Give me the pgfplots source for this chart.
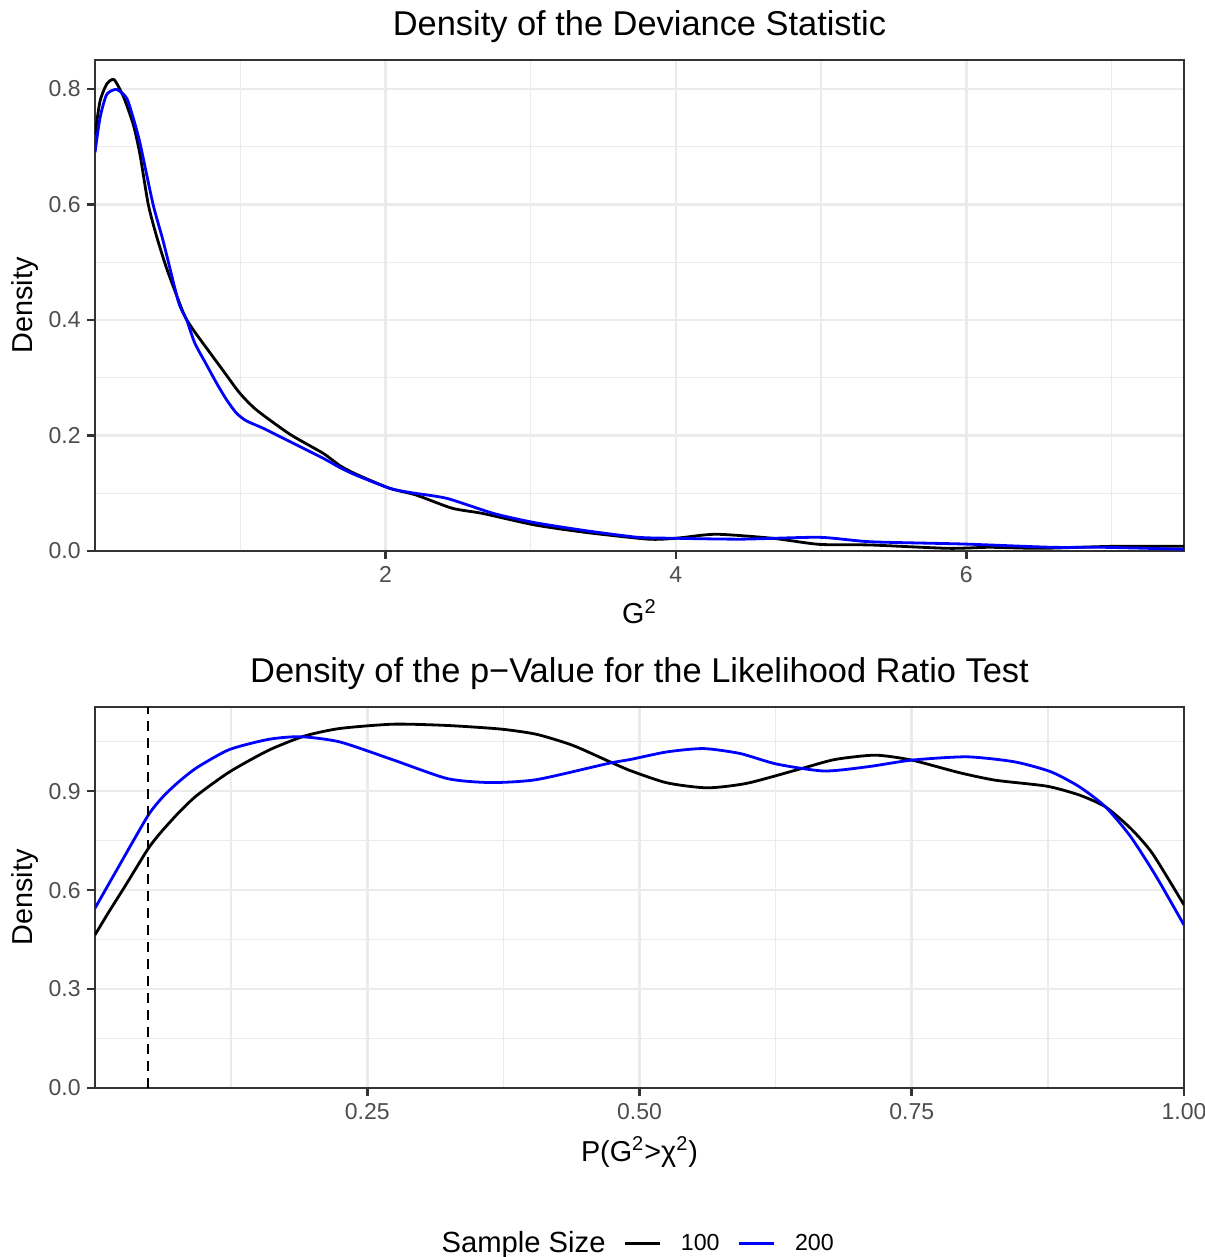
\documentclass[border=0pt]{standalone}
\usepackage{pgfplots}
\pgfplotsset{compat=1.18}
\usepackage{fontspec}
\setmainfont{Liberation Sans}
\definecolor{gridc}{HTML}{EBEBEB}
\definecolor{borderc}{HTML}{333333}
\definecolor{tickc}{HTML}{4D4D4D}
\definecolor{blueline}{HTML}{0000FF}

\pgfplotstableread{
x y
0.000 0.720
0.034 0.778
0.080 0.808
0.131 0.816
0.195 0.787
0.264 0.738
0.310 0.686
0.367 0.600
0.425 0.544
0.493 0.4895
0.574 0.4346
0.620 0.4057
0.677 0.3827
0.769 0.351
0.884 0.3117
0.998 0.273
1.113 0.244
1.343 0.202
1.572 0.169
1.687 0.1477
1.800 0.1328
2.030 0.1085
2.210 0.097
2.460 0.074
2.670 0.065
3.030 0.045
3.385 0.032
3.810 0.0205
4.000 0.022
4.275 0.029
4.667 0.022
4.987 0.0115
5.340 0.0104
5.876 0.0046
6.160 0.0064
6.516 0.0046
7.015 0.0081
7.500 0.0081
}\devA

\pgfplotstableread{
x y
0.000 0.690
0.034 0.749
0.080 0.790
0.149 0.799
0.218 0.784
0.264 0.749
0.310 0.706
0.400 0.600
0.470 0.536
0.574 0.432
0.631 0.400
0.688 0.3596
0.769 0.322
0.838 0.2903
0.907 0.2615
0.975 0.2384
1.044 0.2251
1.159 0.2124
1.343 0.1893
1.572 0.1605
1.687 0.1443
1.800 0.131
2.030 0.1085
2.176 0.101
2.425 0.091
2.745 0.065
3.030 0.049
3.385 0.035
3.740 0.0237
4.000 0.022
4.453 0.0205
4.987 0.0237
5.340 0.016
5.980 0.0121
6.590 0.0064
6.940 0.0064
7.500 0.003
}\devB

\pgfplotstableread{
x y
0.000 0.464
0.0118 0.529
0.0282 0.615
0.0489 0.726
0.061 0.777
0.0775 0.837
0.0939 0.888
0.1234 0.958
0.1595 1.024
0.1924 1.067
0.225 1.090
0.2744 1.103
0.3236 1.099
0.3729 1.088
0.4057 1.072
0.4385 1.039
0.4714 0.991
0.4917 0.962
0.5253 0.925
0.5622 0.910
0.599 0.924
0.6494 0.969
0.6796 0.996
0.7165 1.009
0.75 0.994
0.7937 0.956
0.827 0.933
0.874 0.915
0.904 0.888
0.928 0.852
0.951 0.787
0.971 0.711
1.000 0.555
}\pvA

\pgfplotstableread{
x y
0.000 0.545
0.0217 0.671
0.0489 0.827
0.063 0.885
0.0775 0.930
0.0939 0.972
0.1234 1.026
0.1595 1.057
0.189 1.065
0.225 1.049
0.2744 0.994
0.3236 0.938
0.363 0.926
0.4057 0.935
0.4714 0.984
0.4917 0.996
0.5253 1.019
0.5588 1.029
0.5924 1.014
0.626 0.982
0.6695 0.961
0.7098 0.974
0.75 0.994
0.8004 1.004
0.844 0.989
0.8775 0.959
0.904 0.913
0.928 0.852
0.951 0.762
0.9747 0.640
1.000 0.494
}\pvB

\pgfplotsset{
  myaxis/.style={
    scale only axis, width=544.5pt,
    axis line style={borderc, line width=1.3pt},
    tick style={borderc, line width=1.3pt},
    tick align=outside, major tick length=3.8pt, minor tick length=0pt,
    tick pos=left,
    grid=both,
    major grid style={gridc, line width=1.3pt},
    minor grid style={gridc, line width=0.65pt},
    ticklabel style={font=\fontsize{11.5}{13}\selectfont, text=tickc},
    /pgf/number format/assume math mode=true,
    xticklabel style={anchor=base, inner sep=0pt, yshift=-12pt},
    yticklabel style={anchor=east, inner sep=0pt, xshift=-3.2pt},
    title style={font=\fontsize{17.2}{20}\selectfont, anchor=base, at={(axis description cs:0.5,1)}, yshift=6.15pt, inner sep=0pt},
    label style={font=\fontsize{14.4}{17}\selectfont},
    xlabel style={at={(axis description cs:0.5,0)}, anchor=base, yshift=-36.5pt, inner sep=0pt},
    ylabel style={at={(axis description cs:-0.0575,0.5)}, anchor=base, inner sep=0pt},
    every axis plot/.append style={line width=1.4pt, smooth, tension=0.4},
  }
}

\begin{document}
\begin{tikzpicture}
\useasboundingbox (0,0) rectangle (602pt,-628.5pt);

\begin{axis}[myaxis, at={(47.5pt,-30pt)}, anchor=north west, height=245.5pt,
  xmin=0, xmax=7.5, ymin=0, ymax=0.85,
  xtick={2,4,6}, xticklabels={2,4,6}, minor xtick={1,3,5,7},
  ytick={0,0.2,0.4,0.6,0.8}, yticklabels={0.0,0.2,0.4,0.6,0.8},
  minor ytick={0.1,0.3,0.5,0.7},
  title={Density of the Deviance Statistic},
  xlabel={G\textsuperscript{2}}, ylabel={Density}]
\addplot[black] table[x=x,y=y] {\devA};
\addplot[blueline] table[x=x,y=y] {\devB};
\end{axis}

\begin{axis}[myaxis, at={(47.5pt,-353.5pt)}, anchor=north west, height=190.5pt,
  xmin=0, xmax=1, ymin=0, ymax=1.155,
  xtick={0.25,0.5,0.75,1}, xticklabels={0.25,0.50,0.75,1.00},
  minor xtick={0.125,0.375,0.625,0.875},
  ytick={0,0.3,0.6,0.9}, yticklabels={0.0,0.3,0.6,0.9},
  minor ytick={0.15,0.45,0.75,1.05},
  title={Density of the p−Value for the Likelihood Ratio Test},
  xlabel={P(G\textsuperscript{2}>χ\textsuperscript{2})}, ylabel={Density},
  legend columns=-1,
  legend image code/.code={\draw[#1, line width=1.4pt] (0pt,0pt) -- (17.5pt,0pt);},
  legend style={at={(axis description cs:0.3003,-0.408)}, anchor=west,
    draw=none, fill=none, inner sep=0pt,
    font=\fontsize{11.6}{13}\selectfont,
    nodes={inner sep=0pt},
    /tikz/every odd column/.style={column sep=9.6pt},
    /tikz/every even column/.style={column sep=9.2pt}},
  legend cell align=left]
\addlegendimage{empty legend}
\addlegendentry{\fontsize{14.6}{17}\selectfont Sample Size}
\addplot[black] table[x=x,y=y] {\pvA};
\addlegendentry{100}
\addplot[blueline] table[x=x,y=y] {\pvB};
\addlegendentry{200}
\addplot[black, line width=1.3pt, dash pattern=on 5pt off 3.5pt, forget plot, sharp plot] coordinates {(0.0487,0) (0.0487,1.2)};
\end{axis}
\end{tikzpicture}
\end{document}
